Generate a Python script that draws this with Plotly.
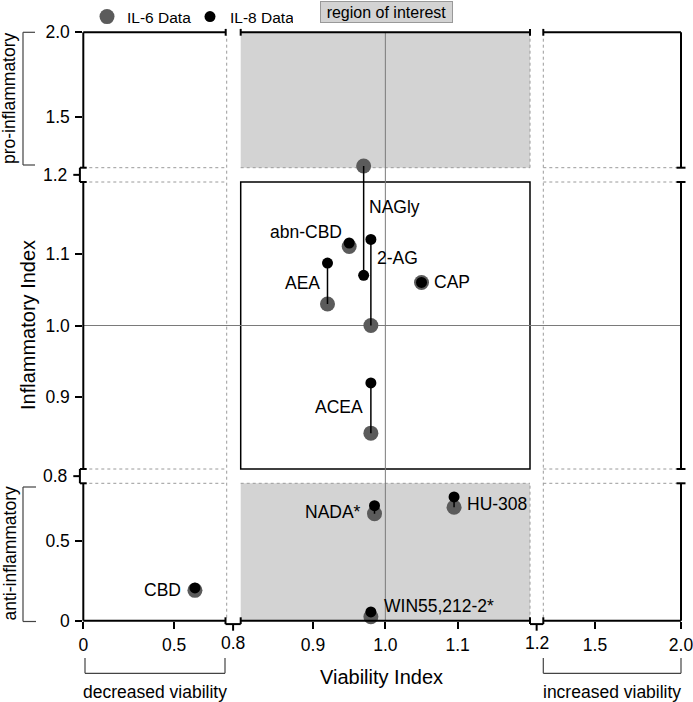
import plotly.graph_objects as go

W, H = 693, 702

# ---------------- data ----------------
compounds = ["AEA", "2-AG", "NAGly", "abn-CBD", "CAP", "ACEA",
             "NADA*", "HU-308", "WIN55,212-2*", "CBD"]
viability = [0.92, 0.98, 0.97, 0.95, 1.05, 0.98, 0.985, 1.095, 0.98, 0.615]
il6_index = [1.03, 1.00, 1.21, 1.11, 1.06, 0.85, 0.67, 0.71, 0.025, 0.19]
il8_index = [1.087, 1.12, 1.07, 1.115, 1.06, 0.92, 0.72, 0.775, 0.055, 0.205]

x_ranges = [[0, 0.79], [0.8, 1.2], [1.2, 2.0]]
y_ranges = [[0, 0.86], [0.8, 1.2], [1.2, 2.0]]
x_tickvals = [[0, 0.5], [0.9, 1.0, 1.1], [1.5, 2.0]]
x_ticktext = [["0", "0.5"], ["0.9", "1.0", "1.1"], ["1.5", "2.0"]]
y_tickvals = [[0, 0.5], [0.9, 1.0, 1.1], [1.5, 2.0]]
y_ticktext = [["0", "0.5"], ["0.9", "1.0", "1.1"], ["1.5", "2.0"]]
break_labels = ["0.8", "1.2"]

# label offsets (pixels) relative to the IL-8 point
label_shift = {
    "NAGly": (31, 68), "abn-CBD": (-43, 11), "2-AG": (27, -19), "AEA": (-25, -20),
    "CAP": (30, 0), "ACEA": (-32, -24), "CBD": (-32, -2), "NADA*": (-42, -6),
    "HU-308": (43, -7), "WIN55,212-2*": (68, 6),
}

# ---------------- layout geometry (pixels) ----------------
FONT = "Liberation Sans, Arial, Helvetica, sans-serif"
TICK_SIZE = 17.5
col_px = [(83.3, 226.7), (240.7, 530.0), (543.3, 681.0)]
row_px = [(620.7, 483.3), (469.0, 182.0), (167.7, 32.3)]
L, R, T, B = 83.3, 681.0, 32.3, 620.7
GRAY_FILL = "#d3d3d3"
DASH_COL = "#9a9a9a"
IL6_COL = "#5b5b5b"
IL8_COL = "#000000"


def px(p):
    return p / W


def py(p):
    return 1 - p / H


xa_names = ["x", "x2", "x3"]
ya_names = ["y", "y2", "y3"]


def col_of(v):
    return 0 if v < 0.8 else (1 if v <= 1.2 else 2)


def row_of(v):
    return 0 if v < 0.8 else (1 if v <= 1.2 else 2)


def y_to_paper(v):
    r = row_of(v)
    lo, hi = y_ranges[r]
    b, t = row_px[r]
    return py(b + (t - b) * (v - lo) / (hi - lo))


fig = go.Figure()

# empty traces so that every panel / axis of the broken grid exists
for ci in range(3):
    for ri in range(3):
        fig.add_trace(go.Scatter(x=[], y=[], xaxis=xa_names[ci], yaxis=ya_names[ri],
                                 mode="markers", showlegend=False, hoverinfo="skip"))

# IL-6 markers
shown = set()
groups = {}
for i, c in enumerate(compounds):
    key = (col_of(viability[i]), row_of(il6_index[i]))
    groups.setdefault(key, []).append(i)
for (ci, ri), idx in groups.items():
    fig.add_trace(go.Scatter(
        x=[viability[i] for i in idx], y=[il6_index[i] for i in idx],
        xaxis=xa_names[ci], yaxis=ya_names[ri], mode="markers",
        marker=dict(size=15, color=IL6_COL), cliponaxis=False,
        name="IL-6 Data", legendgroup="il6", showlegend="il6" not in shown,
        text=[compounds[i] for i in idx], hoverinfo="text+x+y"))
    shown.add("il6")

# connectors
shapes = []
for i, c in enumerate(compounds):
    ci = col_of(viability[i])
    r6, r8 = row_of(il6_index[i]), row_of(il8_index[i])
    if r6 == r8:
        fig.add_trace(go.Scatter(
            x=[viability[i], viability[i]], y=[il6_index[i], il8_index[i]],
            xaxis=xa_names[ci], yaxis=ya_names[r6], mode="lines",
            line=dict(color="black", width=1.5), showlegend=False, hoverinfo="skip"))
    else:
        shapes.append(dict(type="line", xref=xa_names[ci], yref="paper",
                           x0=viability[i], x1=viability[i],
                           y0=y_to_paper(il6_index[i]), y1=y_to_paper(il8_index[i]),
                           line=dict(color="black", width=1.5), layer="above"))

# IL-8 markers
groups = {}
for i, c in enumerate(compounds):
    key = (col_of(viability[i]), row_of(il8_index[i]))
    groups.setdefault(key, []).append(i)
for (ci, ri), idx in groups.items():
    fig.add_trace(go.Scatter(
        x=[viability[i] for i in idx], y=[il8_index[i] for i in idx],
        xaxis=xa_names[ci], yaxis=ya_names[ri], mode="markers",
        marker=dict(size=11, color=IL8_COL), cliponaxis=False,
        name="IL-8 Data", legendgroup="il8", showlegend="il8" not in shown,
        text=[compounds[i] for i in idx], hoverinfo="text+x+y"))
    shown.add("il8")

# ---------------- axes ----------------
layout_axes = {}
for k in range(3):
    kx = "xaxis" if k == 0 else f"xaxis{k+1}"
    ky = "yaxis" if k == 0 else f"yaxis{k+1}"
    common = dict(ticks="outside", ticklen=7, tickwidth=2, tickcolor="black",
                  showgrid=False, zeroline=False, showline=False, automargin=False,
                  ticklabeloverflow="allow",
                  tickfont=dict(size=TICK_SIZE, color="black", family=FONT), fixedrange=True)
    layout_axes[kx] = dict(domain=[px(col_px[k][0]), px(col_px[k][1])], range=x_ranges[k],
                           anchor="y", tickmode="array", tickvals=x_tickvals[k],
                           ticktext=x_ticktext[k], ticklabelstandoff=1, **common)
    layout_axes[ky] = dict(domain=[py(row_px[k][0]), py(row_px[k][1])], range=y_ranges[k],
                           anchor="x", tickmode="array", tickvals=y_tickvals[k],
                           ticktext=y_ticktext[k], ticklabelstandoff=2, **common)

# ---------------- background shapes ----------------
bg = []
for ry in ["y3", "y"]:
    bg.append(dict(type="rect", xref="x2 domain", yref=f"{ry} domain", x0=0, x1=1, y0=0, y1=1,
                   fillcolor=GRAY_FILL, line=dict(width=0), layer="below"))
dash = dict(color=DASH_COL, width=1, dash="3px,3px")
# vertical dashed at column borders
bg.append(dict(type="line", xref="x domain", yref="paper", x0=1, x1=1, y0=py(B - 3), y1=py(T + 3), line=dash, layer="below"))
bg.append(dict(type="line", xref="x3 domain", yref="paper", x0=0, x1=0, y0=py(B - 3), y1=py(T + 3), line=dash, layer="below"))
for ry in ["y3", "y"]:
    bg.append(dict(type="line", xref="x2 domain", yref=f"{ry} domain", x0=1, x1=1, y0=0, y1=1, line=dash, layer="below"))
# horizontal dashed
for xr in ["x", "x3"]:
    for ry, yv in [("y3", 0), ("y2", 1), ("y2", 0), ("y", 1)]:
        bg.append(dict(type="line", xref=f"{xr} domain", yref=f"{ry} domain", x0=0, x1=1, y0=yv, y1=yv, line=dash, layer="below"))
bg.append(dict(type="line", xref="x2 domain", yref="y3 domain", x0=0, x1=1, y0=0, y1=0, line=dash, layer="below"))
bg.append(dict(type="line", xref="x2 domain", yref="y domain", x0=0, x1=1, y0=1, y1=1, line=dash, layer="below"))
# region-of-interest box in middle
bg.append(dict(type="rect", xref="x2 domain", yref="y2 domain", x0=0, x1=1, y0=0, y1=1,
               line=dict(color="black", width=1.5), layer="below"))
# reference lines at 1.0
bg.append(dict(type="line", xref="x2", yref="paper", x0=1.0, x1=1.0, y0=py(B), y1=py(T),
               line=dict(color="#7a7a7a", width=1), layer="below"))
bg.append(dict(type="line", xref="paper", yref="y2", x0=px(L), x1=px(R), y0=1.0, y1=1.0,
               line=dict(color="#7a7a7a", width=1), layer="below"))

# ---------------- axis frame with breaks ----------------
AX = dict(color="black", width=2)


def seg(x0, y0, x1, y1, line=AX):
    return dict(type="line", xref="paper", yref="paper", x0=px(x0), x1=px(x1),
                y0=py(y0), y1=py(y1), line=line, layer="above")


frame = []
o = 3.4
# left axis
frame += [seg(L, T, L, 167.7), seg(L, 182, L, 469), seg(L, 483.3, L, B)]
for a, b in [(167.7, 182), (469, 483.3)]:
    frame += [seg(L - o, a, L + o, a), seg(L - o, b, L + o, b), seg(L - o, a, L - o, b),
              seg(L - 10, (a + b) / 2, L - o, (a + b) / 2)]
# bottom axis
frame += [seg(L, B, 225.5, B), seg(240.7, B, 530, B), seg(543.3, B, R, B)]
for a, b in [(225.5, 240.7), (530, 543.3)]:
    frame += [seg(a, B - o, a, B + o), seg(b, B - o, b, B + o), seg(a, B + o, b, B + o),
              seg((a + b) / 2, B + o, (a + b) / 2, B + 10)]
# top edge
frame += [seg(L, T, 225.7, T), seg(240.7, T, 530, T), seg(543.3, T, R, T)]
for xx in [225.7, 240.7, 530, 543.3]:
    frame.append(seg(xx, T - o, xx, T + o))
# right edge
frame += [seg(R, T, R, 167.7), seg(R, 182, R, 469), seg(R, 483.3, R, B)]
for yy in [167.7, 182, 469, 483.3]:
    frame.append(seg(R - 4.5, yy, R + 4.5, yy))

# brackets
BR = dict(color="#444444", width=1.2)
brackets = [
    seg(23, 32.3, 23, 165, BR), seg(23, 32.3, 35, 32.3, BR), seg(23, 165, 35, 165, BR),
    seg(23, 487, 23, 621.5, BR), seg(23, 487, 36, 487, BR), seg(23, 621.5, 36, 621.5, BR),
    seg(85, 673.3, 225, 673.3, BR), seg(85, 658, 85, 673.3, BR), seg(225, 658, 225, 673.3, BR),
    seg(543.3, 673.3, 681, 673.3, BR), seg(543.3, 658, 543.3, 673.3, BR), seg(681, 658, 681, 673.3, BR),
]

# ---------------- annotations ----------------
ann = []
for i, c in enumerate(compounds):
    dx, dy = label_shift[c]
    ann.append(dict(x=viability[i], y=il8_index[i], xref=xa_names[col_of(viability[i])],
                    yref=ya_names[row_of(il8_index[i])], text=c, showarrow=False,
                    xanchor="center", yanchor="middle", xshift=dx, yshift=dy,
                    font=dict(size=17.5, color="black", family=FONT)))


def txt(x, y, s, size=16, angle=0, **kw):
    d = dict(x=px(x), y=py(y), xref="paper", yref="paper", text=s, showarrow=False,
             xanchor="center", yanchor="middle", textangle=angle,
             font=dict(size=size, color="black", family=FONT))
    d.update(kw)
    return d


# break tick labels
ann += [txt(68.5, 476.2, break_labels[0], size=TICK_SIZE, xanchor="right"),
        txt(68.5, 174.8, break_labels[1], size=TICK_SIZE, xanchor="right"),
        txt(233, 643, break_labels[0], size=TICK_SIZE),
        txt(536.7, 643, break_labels[1], size=TICK_SIZE)]
# axis titles and bracket labels
ann += [txt(381, 677, "Viability Index", size=20),
        txt(28, 325, "Inflammatory Index", size=20, angle=-90),
        txt(9.5, 98.5, "pro-inflammatory", size=17.5, angle=-90),
        txt(9.5, 554, "anti-inflammatory", size=17.5, angle=-90),
        txt(155, 691.5, "decreased viability", size=17.5),
        txt(612, 691.5, "increased viability", size=17.5),
        txt(386.5, 12, "region of interest", size=16, bgcolor=GRAY_FILL,
            bordercolor="#999999", borderwidth=1, borderpad=1, width=129, height=18)]

fig.update_layout(
    width=W, height=H, margin=dict(l=0, r=0, t=0, b=0, autoexpand=False),
    paper_bgcolor="white", plot_bgcolor="rgba(0,0,0,0)",
    font=dict(family=FONT, size=16, color="black"),
    showlegend=True,
    legend=dict(orientation="h", x=px(87), y=py(0), xanchor="left", yanchor="top",
                font=dict(size=15.5, family=FONT, color="black"), bgcolor="rgba(0,0,0,0)",
                itemwidth=30, tracegroupgap=0, entrywidth=58),
    shapes=bg + shapes + frame + brackets,
    annotations=ann,
    **layout_axes,
)

fig.write_html("out.html", config={"displayModeBar": False},
               post_script="document.body.style.margin='0';")
